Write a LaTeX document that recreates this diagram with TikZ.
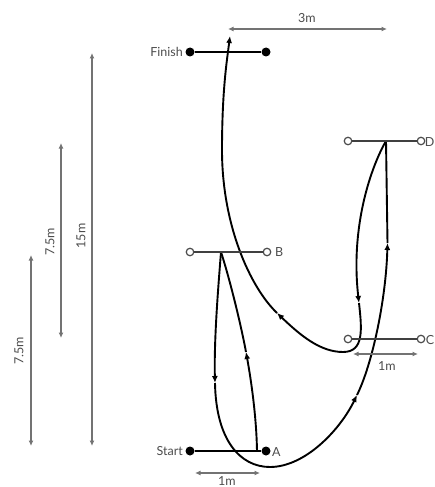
\documentclass[tikz,border=0pt]{standalone}
\usepackage{fontspec}
\setmainfont{Lato}
\usetikzlibrary{arrows.meta}
\begin{document}
\begin{tikzpicture}[x=1pt,y=-1pt,
  run/.style={line width=1.9pt, black},
  tip/.style={-{Latex[length=7pt,width=6pt]}},
  dim/.style={line width=1.3pt, black!55, {Latex[length=5.5pt,width=5pt]}-{Latex[length=5.5pt,width=5pt]}},
  lbl/.style={text=black!70, font=\fontsize{12.5}{14}\selectfont, inner sep=0pt},
  solidgate/.style={line width=1.9pt, black},
  opengate/.style={line width=1.3pt, black!75},
  fulldot/.style={circle, fill=black, minimum size=9pt, inner sep=0pt},
  opendot/.style={circle, draw=black!70, fill=white, line width=1.2pt, minimum size=7.5pt, inner sep=0pt}]

\useasboundingbox (0,0) rectangle (435,487);

% key points
\coordinate (sA) at (257,451);
\coordinate (sB) at (221,252);
\coordinate (sD) at (386,141);
\coordinate (fin) at (230,36);
\coordinate (p1) at (246,352);
\coordinate (p2) at (215,383);
\coordinate (bot) at (270,467);
\coordinate (p3) at (357,395);
\coordinate (p4) at (387.5,243);
\coordinate (p5) at (359,303);
\coordinate (hk) at (343,352);
\coordinate (p6) at (277,313);
\coordinate (lf) at (222,150);

% A -> B
\draw[run,tip] (sA) .. controls (256.5,420) and (252,385) .. (p1);
\draw[run] (p1) .. controls (241,325) and (230,280) .. (sB);
% B -> around -> D
\draw[run,tip] (sB) .. controls (218,290) and (214,340) .. (p2);
\draw[run,tip] (p2) .. controls (216,440) and (240,467) .. (bot) .. controls (305,467) and (340,430) .. (p3);
\draw[run,tip] (p3) .. controls (372,365) and (386,300) .. (p4);
\draw[run] (p4) -- (sD);
% D -> around C -> Finish
\draw[run,tip] (sD) .. controls (372,165) and (350,225) .. (p5);
\draw[run,tip] (p5) .. controls (362,330) and (364,352) .. (hk) .. controls (320,352) and (300,335) .. (p6);
\draw[run,tip] (p6) .. controls (250,287) and (222,225) .. (lf) .. controls (222,90) and (227,60) .. (fin);

% Finish gate
\node[fulldot] (F1) at (190,52) {};
\node[fulldot] (F2) at (266,52) {};
\draw[solidgate] (F1) -- (F2);
\node[lbl, anchor=east] (tF) at (183,52) {Finish};

% Start gate
\node[fulldot] (S1) at (190,451) {};
\node[fulldot] (S2) at (266,451) {};
\draw[solidgate] (S1) -- (S2);
\node[lbl, anchor=east] (tS) at (183,451) {Start};
\node[lbl, anchor=west] (tA) at (272,452) {A};

% B gate
\node[opendot] (B1) at (190,252) {};
\node[opendot] (B2) at (267,252) {};
\draw[opengate] (B1) -- (B2);
\node[lbl, anchor=west] (tB) at (275,252) {B};

% C gate
\node[opendot] (C1) at (348,339) {};
\node[opendot] (C2) at (421,339) {};
\draw[opengate] (C1) -- (C2);
\node[lbl, anchor=east] (tC) at (434.5,340) {C};

% D gate
\node[opendot] (D1) at (348,141) {};
\node[opendot] (D2) at (421,141) {};
\draw[opengate] (D1) -- (D2);
\node[lbl, anchor=east] (tD) at (434.5,142) {D};

% dimensions
\coordinate (m3a) at (228,29); \coordinate (m3b) at (387,29);
\draw[dim] (m3a) -- (m3b);
\node[lbl] (t3m) at (307,18) {3m};

\coordinate (m1a) at (353,354); \coordinate (m1b) at (418,354);
\draw[dim] (m1a) -- (m1b);
\node[lbl] (t1m) at (387,366) {1m};

\coordinate (m2a) at (195,473); \coordinate (m2b) at (260,473);
\draw[dim] (m2a) -- (m2b);
\node[lbl] (t1mb) at (227,481) {1m};

\coordinate (v1a) at (31,255); \coordinate (v1b) at (31,446);
\draw[dim] (v1a) -- (v1b);
\node[lbl, rotate=90] (tv1) at (19,351) {7.5m};

\coordinate (v2a) at (61,143); \coordinate (v2b) at (61,338);
\draw[dim] (v2a) -- (v2b);
\node[lbl, rotate=90] (tv2) at (50,242) {7.5m};

\coordinate (v3a) at (92,53); \coordinate (v3b) at (92,446);
\draw[dim] (v3a) -- (v3b);
\node[lbl, rotate=90] (tv3) at (81,236) {15m};
\end{tikzpicture}
\end{document}
